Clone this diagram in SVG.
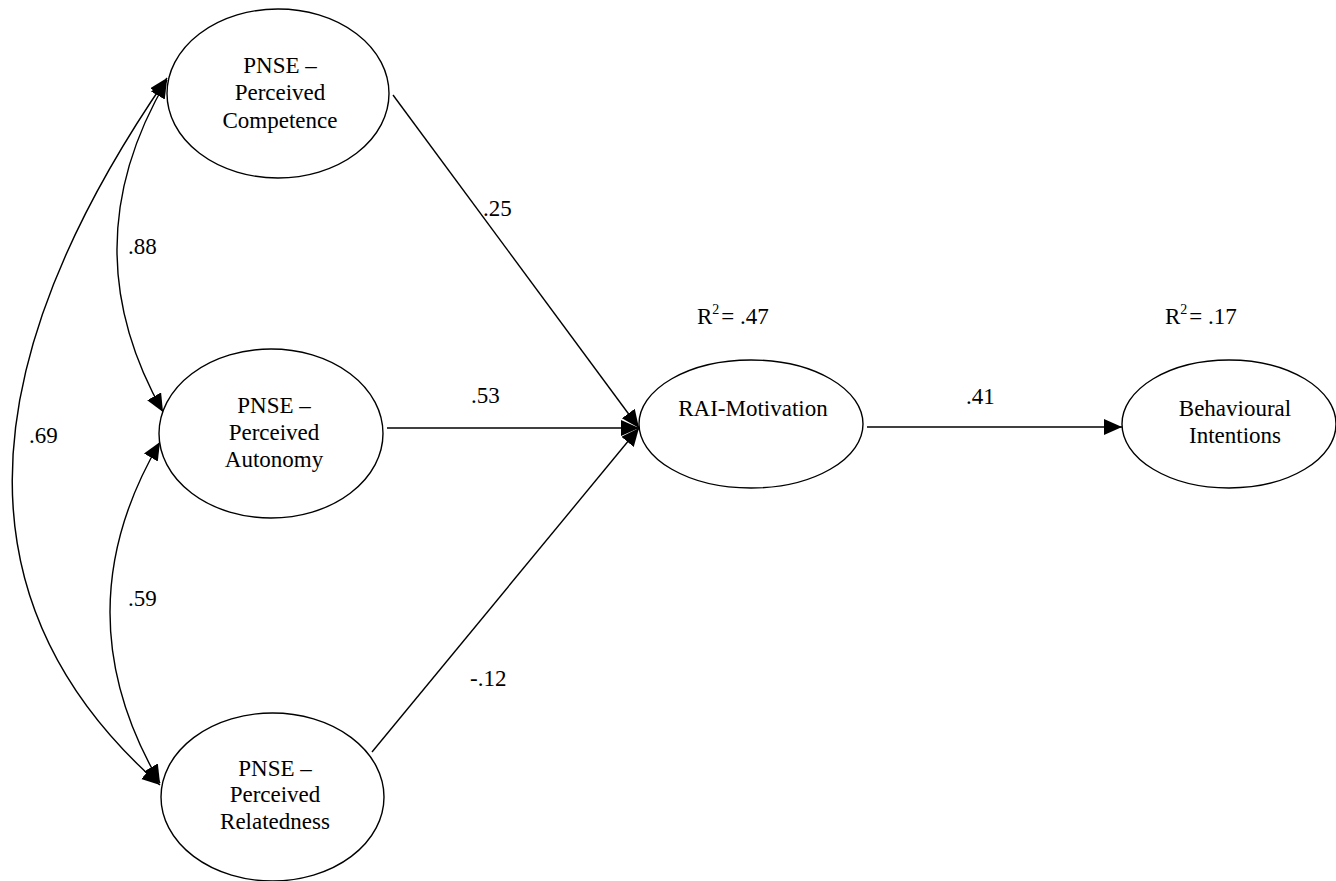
<svg xmlns="http://www.w3.org/2000/svg" width="1336" height="881" viewBox="0 0 1336 881">
<style>
  .node { fill: #ffffff; stroke: #000000; stroke-width: 1.4; }
  .lbl { font-family: "Liberation Serif", "DejaVu Serif", serif; font-size: 23px; fill: #000000; }
  .mid { text-anchor: middle; }
  .edge { fill: none; stroke: #000000; stroke-width: 1.4; }
</style>
<defs>
  <marker id="arr" markerUnits="userSpaceOnUse" markerWidth="20" markerHeight="18" refX="18" refY="8" orient="auto-start-reverse" viewBox="0 0 20 18">
    <path d="M0,0 L18,8 L0,16 Z" fill="#000000"/>
  </marker>
</defs>
<rect width="1336" height="881" fill="#ffffff"/>

<g id="connectors">
  <!-- .88 Competence <-> Autonomy -->
  <path class="edge" d="M167,80 Q69,246 163,412" marker-start="url(#arr)" marker-end="url(#arr)"/>
  <!-- .59 Autonomy <-> Relatedness -->
  <path class="edge" d="M160,442 Q60,612 160,783" marker-start="url(#arr)" marker-end="url(#arr)"/>
  <!-- .69 Competence <-> Relatedness -->
  <path class="edge" d="M167,78 Q-139,522 160,785" marker-start="url(#arr)" marker-end="url(#arr)"/>
  <!-- paths to RAI -->
  <line class="edge" x1="393" y1="95" x2="639" y2="428" marker-end="url(#arr)"/>
  <line class="edge" x1="387" y1="428" x2="639" y2="428" marker-end="url(#arr)"/>
  <line class="edge" x1="372" y1="752" x2="639" y2="428" marker-end="url(#arr)"/>
  <!-- RAI -> Behavioural -->
  <line class="edge" x1="867" y1="427" x2="1122" y2="427" marker-end="url(#arr)"/>
  <!-- labels -->
  <text class="lbl" x="483" y="216">.25</text>
  <text class="lbl" x="471" y="403">.53</text>
  <text class="lbl" x="470" y="686">-.12</text>
  <text class="lbl" x="966" y="404">.41</text>
  <text class="lbl" x="128" y="254">.88</text>
  <text class="lbl" x="29" y="443">.69</text>
  <text class="lbl" x="128" y="606">.59</text>
</g>

<g id="node-competence">
  <ellipse class="node" cx="278" cy="93.5" rx="111" ry="84.5"/>
  <text class="lbl mid" x="280" y="73">PNSE –</text>
  <text class="lbl mid" x="280" y="100">Perceived</text>
  <text class="lbl mid" x="280" y="128">Competence</text>
</g>

<g id="node-autonomy">
  <ellipse class="node" cx="271" cy="433.5" rx="112" ry="84.5"/>
  <text class="lbl mid" x="274" y="413">PNSE –</text>
  <text class="lbl mid" x="274" y="440">Perceived</text>
  <text class="lbl mid" x="274" y="467">Autonomy</text>
</g>

<g id="node-relatedness">
  <ellipse class="node" cx="272.5" cy="797" rx="111.5" ry="84"/>
  <text class="lbl mid" x="275" y="776">PNSE –</text>
  <text class="lbl mid" x="275" y="802">Perceived</text>
  <text class="lbl mid" x="275" y="829">Relatedness</text>
</g>

<g id="node-rai">
  <ellipse class="node" cx="751" cy="424" rx="112" ry="64"/>
  <text class="lbl mid" x="753" y="416">RAI-Motivation</text>
  <text class="lbl" x="697" y="324">R<tspan font-size="14" dy="-10">2</tspan><tspan dx="2" dy="10">= .47</tspan></text>
</g>

<g id="node-behavioural">
  <ellipse class="node" cx="1229" cy="424" rx="107" ry="64"/>
  <text class="lbl mid" x="1235" y="416">Behavioural</text>
  <text class="lbl mid" x="1235" y="443">Intentions</text>
  <text class="lbl" x="1165" y="324">R<tspan font-size="14" dy="-10">2</tspan><tspan dx="2" dy="10">= .17</tspan></text>
</g>
</svg>
